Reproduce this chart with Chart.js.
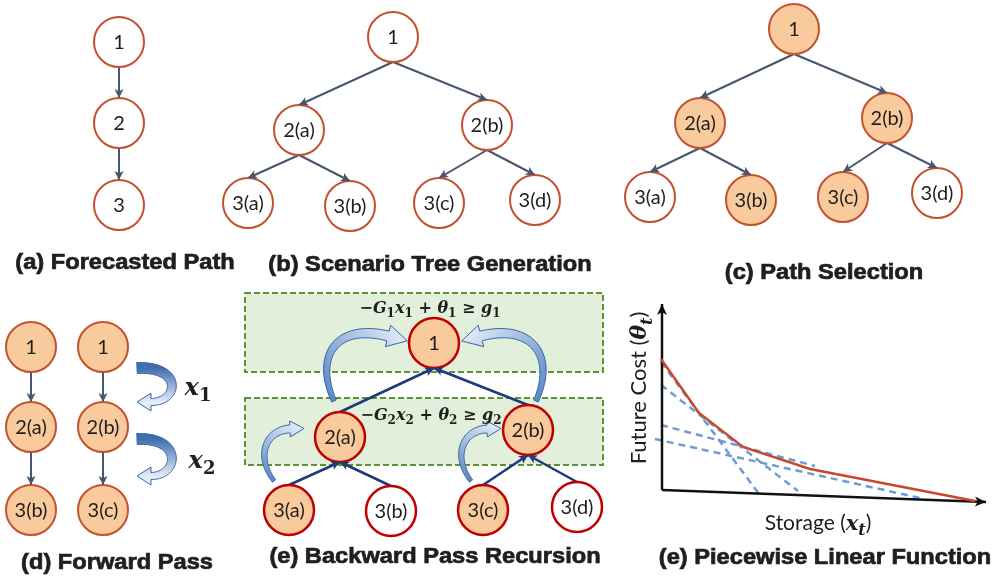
<!DOCTYPE html>
<html>
<head>
<meta charset="utf-8">
<script src="https://cdn.jsdelivr.net/npm/chart.js@4.4.1/dist/chart.umd.min.js"></script>
<style>
html,body{margin:0;padding:0;background:#ffffff;}
canvas{display:block;}
</style>
</head>
<body>
<canvas id="c" width="992" height="577"></canvas>
<script>
// ---- panel (a): forecasted path ----
const pathALabels = ['1', '2', '3'];
const pathAX = [119, 119, 119];
const pathAY = [42, 123, 205];
const pathAFill = [0, 0, 0];
const pathAParents = [-1, 0, 1];

// ---- panel (b): scenario tree ----
const treeLabels = ['1', '2(a)', '2(b)', '3(a)', '3(b)', '3(c)', '3(d)'];
const treeParents = [-1, 0, 0, 1, 1, 2, 2];
const treeBX = [393, 299, 487, 248, 350, 439, 535];
const treeBY = [37, 130, 125, 203, 206, 203, 200];
const treeBFill = [0, 0, 0, 0, 0, 0, 0];

// ---- panel (c): selected paths ----
const treeCX = [794, 700, 887, 650, 751, 843, 937];
const treeCY = [29, 123, 118, 197, 200, 197, 193];
const treeCFill = [1, 1, 1, 0, 1, 1, 0];

// ---- panel (d): forward pass ----
const fwdLabels = ['1', '2(a)', '3(b)', '1', '2(b)', '3(c)'];
const fwdParents = [-1, 0, 1, -1, 3, 4];
const fwdX = [31, 31, 31, 103, 103, 103];
const fwdY = [347, 427, 510, 347, 427, 510];
const fwdFill = [1, 1, 1, 1, 1, 1];

// ---- panel (e): backward pass ----
const bwdX = [434, 340, 528, 289, 391, 483, 577];
const bwdY = [343, 437, 430, 510, 511, 510, 507];
const bwdFill = [1, 1, 1, 1, 0, 1, 0];
const stageBoxX0 = [245, 245];
const stageBoxX1 = [603, 603];
const stageBoxY0 = [293, 398];
const stageBoxY1 = [372, 465];

// ---- panel (f): piecewise linear future cost ----
const costX = [661, 699, 743, 810, 975];
const costY = [359, 413, 447, 469, 501];
const cutX0 = [661, 661, 661, 655];
const cutY0 = [362, 385, 425, 439];
const cutX1 = [759, 798, 815, 920];
const cutY1 = [494, 491, 466, 498];
const axisOrigin = [662, 490];
const axisYTip = [662, 304];
const axisXTip = [986, 502];

// curved block arrows: cubic centre-line (x0,y0, c1x,c1y, c2x,c2y, x1,y1)
const stateArrows = [
  [137, 368, 183, 366, 179, 402, 151, 402],
  [137, 439, 183, 437, 179, 476, 151, 476]
];
const cutArrowsBig = [
  [334, 401, 314, 356, 336, 323, 388, 336],
  [536, 401, 556, 356, 532, 323, 481, 336]
];
const cutArrowsSmall = [
  [274, 481, 255, 456, 266, 430, 290, 429],
  [471, 481, 452, 456, 463, 430, 487, 429]
];

const captions = ['(a) Forecasted Path', '(b) Scenario Tree Generation', '(c) Path Selection',
  '(d) Forward Pass', '(e) Backward Pass Recursion', '(e) Piecewise Linear Function'];
const captionX = [125, 430, 824, 117, 435, 825];
const captionY = [263, 265, 273, 563, 557, 558];

const NODE_R = 25;
const PEACH = '#F9CB9C';
const NODE_EDGE = '#C2522F';
const NODE_EDGE_E = '#C00000';
const LINK = '#47556F';
const LINK_E = '#1F3A78';

function pts(xs, ys) { return xs.map((x, i) => ({ x: x, y: ys[i] })); }

function nodeSet(xs, ys, fills, border, bw) {
  return {
    type: 'scatter', data: pts(xs, ys), order: 0,
    pointRadius: NODE_R, pointHoverRadius: NODE_R, pointStyle: 'circle',
    pointBackgroundColor: fills.map(f => f ? PEACH : '#ffffff'),
    pointBorderColor: border, pointBorderWidth: bw, showLine: false
  };
}

// links: downward trees go from parent bottom to child top, upward from child top to parent bottom
function linkSets(xs, ys, parents, up, color, width) {
  const out = [];
  parents.forEach((p, i) => {
    if (p < 0) return;
    const data = up
      ? [{ x: xs[i], y: ys[i] - NODE_R }, { x: xs[p], y: ys[p] + NODE_R }]
      : [{ x: xs[p], y: ys[p] + NODE_R }, { x: xs[i], y: ys[i] - NODE_R }];
    out.push({ type: 'line', data, order: 2, borderColor: color, borderWidth: width,
      pointRadius: 0, arrowHead: { len: 9, half: 4.5, color } });
  });
  return out;
}

const datasets = [];
datasets.push(...linkSets(pathAX, pathAY, pathAParents, false, LINK, 2));
datasets.push(...linkSets(treeBX, treeBY, treeParents, false, LINK, 2));
datasets.push(...linkSets(treeCX, treeCY, treeParents, false, LINK, 2));
datasets.push(...linkSets(fwdX, fwdY, fwdParents, false, LINK, 2));
datasets.push(...linkSets(bwdX, bwdY, treeParents, true, LINK_E, 2.5));

datasets.push(nodeSet(pathAX, pathAY, pathAFill, NODE_EDGE, 2));
datasets.push(nodeSet(treeBX, treeBY, treeBFill, NODE_EDGE, 2));
datasets.push(nodeSet(treeCX, treeCY, treeCFill, NODE_EDGE, 2));
datasets.push(nodeSet(fwdX, fwdY, fwdFill, NODE_EDGE, 2));
datasets.push(nodeSet(bwdX, bwdY, bwdFill, NODE_EDGE_E, 2.5));

// cost function and its cuts
datasets.push({ type: 'line', data: pts(costX, costY), order: 1, borderColor: '#C9472B',
  borderWidth: 2.5, pointRadius: 0, tension: 0 });
cutX0.forEach((x, i) => {
  datasets.push({ type: 'line', data: [{ x, y: cutY0[i] }, { x: cutX1[i], y: cutY1[i] }],
    order: 3, borderColor: '#6E9BD2', borderWidth: 2.5, borderDash: [7, 5], pointRadius: 0 });
});
// axes of the cost plot
datasets.push({ type: 'line', data: [{ x: axisOrigin[0], y: axisOrigin[1] }, { x: axisYTip[0], y: axisYTip[1] }],
  order: 1, borderColor: '#111111', borderWidth: 2.5, pointRadius: 0,
  arrowHead: { len: 11, half: 5, color: '#111111' } });
datasets.push({ type: 'line', data: [{ x: axisOrigin[0], y: axisOrigin[1] }, { x: axisXTip[0], y: axisXTip[1] }],
  order: 1, borderColor: '#111111', borderWidth: 2.5, pointRadius: 0,
  arrowHead: { len: 11, half: 5, color: '#111111' } });

// ---------- text helpers ----------
const FONTS = {
  r: s => `${s}px Lato`,
  m: s => `italic bold ${s}px "DejaVu Serif"`,
  u: s => `bold ${s}px "DejaVu Serif"`,
  s: s => `bold ${Math.round(s * 0.74)}px "DejaVu Serif"`,
  si: s => `italic bold ${Math.round(s * 0.74)}px "DejaVu Serif"`
};
function richWidth(ctx, segs, size) {
  let w = 0;
  for (const [t, st] of segs) { ctx.font = FONTS[st](size); w += ctx.measureText(t).width; }
  return w;
}
function drawRich(ctx, segs, x, y, size, color) {
  const w = richWidth(ctx, segs, size);
  let cx = x - w / 2;
  ctx.textAlign = 'left';
  ctx.textBaseline = 'alphabetic';
  ctx.fillStyle = color;
  for (const [t, st] of segs) {
    ctx.font = FONTS[st](size);
    const dy = (st === 's' || st === 'si') ? size * 0.26 : 0;
    ctx.fillText(t, cx, y + dy);
    cx += ctx.measureText(t).width;
  }
}

function bez(p, t) {
  const u = 1 - t;
  return [
    u * u * u * p[0] + 3 * u * u * t * p[2] + 3 * u * t * t * p[4] + t * t * t * p[6],
    u * u * u * p[1] + 3 * u * u * t * p[3] + 3 * u * t * t * p[5] + t * t * t * p[7]
  ];
}
function bezD(p, t) {
  const u = 1 - t;
  return [
    3 * u * u * (p[2] - p[0]) + 6 * u * t * (p[4] - p[2]) + 3 * t * t * (p[6] - p[4]),
    3 * u * u * (p[3] - p[1]) + 6 * u * t * (p[5] - p[3]) + 3 * t * t * (p[7] - p[5])
  ];
}
// a tapered curved band ending in a triangular head
function blockArrow(ctx, p, w0, w1, headHalf, headLen, c0, c1) {
  const N = 40, L = [], R = [];
  for (let i = 0; i <= N; i++) {
    const t = i / N, b = bez(p, t), d = bezD(p, t);
    const m = Math.hypot(d[0], d[1]) || 1;
    const nx = -d[1] / m, ny = d[0] / m;
    const w = (w0 + (w1 - w0) * t) / 2;
    L.push([b[0] + nx * w, b[1] + ny * w]);
    R.push([b[0] - nx * w, b[1] - ny * w]);
  }
  const e = bez(p, 1), d = bezD(p, 1), m = Math.hypot(d[0], d[1]);
  const tx = d[0] / m, ty = d[1] / m, nx = -ty, ny = tx;
  const tip = [e[0] + tx * headLen, e[1] + ty * headLen];
  ctx.beginPath();
  ctx.moveTo(L[0][0], L[0][1]);
  for (const q of L) ctx.lineTo(q[0], q[1]);
  ctx.lineTo(e[0] + nx * headHalf, e[1] + ny * headHalf);
  ctx.lineTo(tip[0], tip[1]);
  ctx.lineTo(e[0] - nx * headHalf, e[1] - ny * headHalf);
  for (let i = R.length - 1; i >= 0; i--) ctx.lineTo(R[i][0], R[i][1]);
  ctx.closePath();
  const g = ctx.createLinearGradient(p[0], p[1], tip[0], tip[1]);
  g.addColorStop(0, c0);
  g.addColorStop(1, c1);
  ctx.fillStyle = g;
  ctx.fill();
  ctx.lineWidth = 1;
  ctx.strokeStyle = '#3B67A3';
  ctx.stroke();
}

const diagramPlugin = {
  id: 'diagram',
  beforeDatasetsDraw(chart) {
    const ctx = chart.ctx, sx = chart.scales.x, sy = chart.scales.y;
    ctx.save();
    stageBoxX0.forEach((x0, i) => {
      const l = sx.getPixelForValue(x0), r = sx.getPixelForValue(stageBoxX1[i]);
      const t = sy.getPixelForValue(stageBoxY0[i]), b = sy.getPixelForValue(stageBoxY1[i]);
      ctx.fillStyle = '#E2EFDA';
      ctx.fillRect(l, t, r - l, b - t);
      ctx.setLineDash([6, 3]);
      ctx.lineWidth = 2;
      ctx.strokeStyle = '#5E9136';
      ctx.strokeRect(l, t, r - l, b - t);
    });
    ctx.restore();
  },
  afterDatasetsDraw(chart) {
    const ctx = chart.ctx, sx = chart.scales.x, sy = chart.scales.y;
    const P = (x, y) => [sx.getPixelForValue(x), sy.getPixelForValue(y)];
    ctx.save();
    // arrow heads on links and axes
    chart.data.datasets.forEach(ds => {
      if (!ds.arrowHead) return;
      const a = ds.data[ds.data.length - 2], b = ds.data[ds.data.length - 1];
      const [x0, y0] = P(a.x, a.y), [x1, y1] = P(b.x, b.y);
      const m = Math.hypot(x1 - x0, y1 - y0), tx = (x1 - x0) / m, ty = (y1 - y0) / m;
      const h = ds.arrowHead;
      ctx.beginPath();
      ctx.moveTo(x1, y1);
      ctx.lineTo(x1 - tx * h.len - ty * h.half, y1 - ty * h.len + tx * h.half);
      ctx.lineTo(x1 - tx * h.len * 0.75, y1 - ty * h.len * 0.75);
      ctx.lineTo(x1 - tx * h.len + ty * h.half, y1 - ty * h.len - tx * h.half);
      ctx.closePath();
      ctx.fillStyle = h.color;
      ctx.fill();
    });

    // curved block arrows
    const toPix = a => {
      const o = [];
      for (let i = 0; i < a.length; i += 2) { const q = P(a[i], a[i + 1]); o.push(q[0], q[1]); }
      return o;
    };
    stateArrows.forEach(a => blockArrow(ctx, toPix(a), 11, 7, 9, 14, '#3F6DAE', '#E4ECF8'));
    cutArrowsBig.forEach(a => blockArrow(ctx, toPix(a), 5, 10, 11, 20, '#5F8BC6', '#E1EAF7'));
    cutArrowsSmall.forEach(a => blockArrow(ctx, toPix(a), 4, 8, 8, 14, '#5F8BC6', '#E1EAF7'));

    // node labels
    ctx.fillStyle = '#1E1E1E';
    ctx.font = '20px Lato';
    ctx.textAlign = 'center';
    ctx.textBaseline = 'middle';
    const lab = (labels, xs, ys) => labels.forEach((t, i) => {
      const [x, y] = P(xs[i], ys[i]);
      ctx.fillText(t, x, y + 1);
    });
    lab(pathALabels, pathAX, pathAY);
    lab(treeLabels, treeBX, treeBY);
    lab(treeLabels, treeCX, treeCY);
    lab(fwdLabels, fwdX, fwdY);
    lab(treeLabels, bwdX, bwdY);

    // panel captions (heavy, slightly widened sans)
    ctx.font = 'bold 21.5px "Liberation Sans"';
    ctx.fillStyle = '#1F1F1F';
    ctx.strokeStyle = '#1F1F1F';
    ctx.lineWidth = 0.7;
    captions.forEach((t, i) => {
      const q = P(captionX[i], captionY[i]);
      ctx.save();
      ctx.translate(q[0], q[1]);
      ctx.scale(1.1, 1);
      ctx.fillText(t, 0, 0);
      ctx.strokeText(t, 0, 0);
      ctx.restore();
    });

    // cut inequalities
    const f1 = [['−', 'u'], ['G', 'm'], ['1', 's'], ['x', 'm'], ['1', 's'], [' + ', 'u'],
      ['θ', 'm'], ['1', 's'], [' ≥ ', 'u'], ['g', 'm'], ['1', 's']];
    const f2 = [['−', 'u'], ['G', 'm'], ['2', 's'], ['x', 'm'], ['2', 's'], [' + ', 'u'],
      ['θ', 'm'], ['2', 's'], [' ≥ ', 'u'], ['g', 'm'], ['2', 's']];
    let q = P(430, 313); drawRich(ctx, f1, q[0], q[1], 16, '#1E1E1E');
    q = P(431, 420); drawRich(ctx, f2, q[0], q[1], 16, '#1E1E1E');

    // state labels in the forward pass
    q = P(198, 395); drawRich(ctx, [['x', 'm'], ['1', 's']], q[0], q[1], 24, '#1E1E1E');
    q = P(202, 468); drawRich(ctx, [['x', 'm'], ['2', 's']], q[0], q[1], 24, '#1E1E1E');

    // axis titles of the cost plot
    q = P(818, 530);
    drawRich(ctx, [['Storage (', 'r'], ['x', 'm'], ['t', 'si'], [')', 'r']], q[0], q[1], 21, '#1E1E1E');
    q = P(646, 388);
    ctx.save();
    ctx.translate(q[0], q[1]);
    ctx.rotate(-Math.PI / 2);
    drawRich(ctx, [['Future Cost (', 'r'], ['θ', 'm'], ['t', 'si'], [')', 'r']], 0, 0, 22, '#1E1E1E');
    ctx.restore();

    ctx.restore();
  }
};

new Chart(document.getElementById('c'), {
  type: 'scatter',
  data: { datasets },
  options: {
    responsive: false,
    animation: false,
    events: [],
    layout: { padding: 0, autoPadding: false },
    plugins: { legend: { display: false }, tooltip: { enabled: false } },
    scales: {
      x: { type: 'linear', min: 0, max: 992, display: false, offset: false },
      y: { type: 'linear', min: 0, max: 577, reverse: true, display: false, offset: false }
    },
    elements: { line: { fill: false } }
  },
  plugins: [diagramPlugin]
});
</script>
</body>
</html>
